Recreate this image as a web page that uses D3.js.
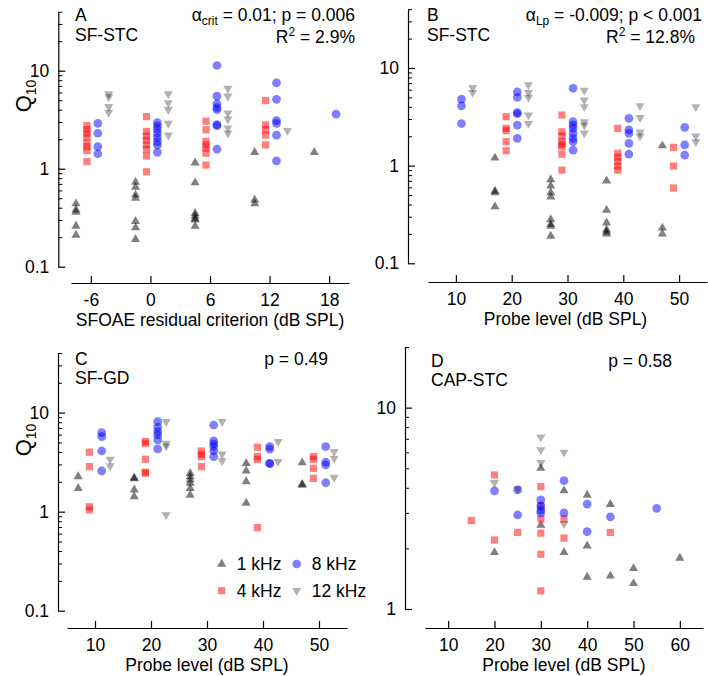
<!DOCTYPE html>
<html><head><meta charset="utf-8">
<script src="https://cdn.jsdelivr.net/npm/d3@7"></script>
<style>
html,body{margin:0;padding:0;background:#fff;}
svg{display:block;font-family:"Liberation Sans",Arial,sans-serif;}
</style></head>
<body><svg id="c" width="708" height="676"></svg>
<script>
// ---------------- DATA ----------------
const frequencies = ["1 kHz", "4 kHz", "8 kHz", "12 kHz"];

// Panel A: [SFOAE residual criterion (dB SPL), Q10]
const A_1k = [[-6,0.44],[-6,0.38],[-6,0.36],[-6,0.26],[-6,0.21],
  [0,0.73],[0,0.65],[0,0.54],[0,0.5],[0,0.29],[0,0.25],[0,0.19],
  [6,1.15],[6,0.72],[6,0.35],[6,0.33],[6,0.31],[6,0.30],[6,0.26],
  [12,1.47],[12,0.48],[12,0.44],[18,1.47]];
const A_4k = [[-6,2.75],[-6,2.5],[-6,2.3],[-6,2.1],[-6,1.82],[-6,1.68],[-6,1.53],[-6,1.18],
  [0,3.4],[0,2.4],[0,2.15],[0,1.95],[0,1.75],[0,1.58],[0,1.35],[0,0.93],
  [6,3.05],[6,2.5],[6,1.9],[6,1.75],[6,1.62],[6,1.44],[6,1.09],
  [12,4.95],[12,2.8],[12,2.5],[12,2.2],[12,1.75]];
const A_8k = [[-6,2.9],[-6,2.3],[-6,1.68],[-6,1.42],
  [0,2.96],[0,2.74],[0,2.53],[0,2.31],[0,2.08],[0,1.89],[0,1.75],[0,1.47],
  [6,11.3],[6,5.5],[6,4.6],[6,4.2],[6,4.0],[6,2.82],[6,2.75],[6,1.58],
  [12,7.5],[12,5.1],[12,3.1],[12,2.9],[12,2.2],[12,1.2],[18,3.6]];
const A_12k = [[-6,5.8],[-6,5.4],[-6,4.3],[-6,3.75],
  [0,5.8],[0,4.7],[0,4.0],[0,2.9],[0,2.2],
  [6,6.6],[6,5.5],[6,3.7],[6,3.2],[6,2.6],[6,2.3],[12,2.45]];

// Panel B: [probe level (dB SPL), Q10]
const B_1k = [[20,1.2],[20,0.55],[20,0.53],[20,0.38],
  [30,0.72],[30,0.62],[30,0.53],[30,0.48],[30,0.28],[30,0.25],[30,0.24],[30,0.19],
  [40,0.70],[40,0.35],[40,0.26],[40,0.22],[40,0.21],[40,0.20],
  [50,1.6],[50,0.23],[50,0.2]];
const B_4k = [[20,3.17],[20,2.41],[20,2.28],[20,1.76],[20,1.42],
  [30,3.3],[30,2.22],[30,2.01],[30,1.76],[30,1.65],[30,1.56],[30,1.31],[30,0.9],
  [40,2.41],[40,1.34],[40,1.22],[40,1.1],[40,0.99],[40,0.9],
  [50,1.54],[50,0.99],[50,0.59]];
const B_8k = [[10,4.8],[10,4.1],[10,2.7],
  [20,5.7],[20,5.0],[20,3.5],[20,3.4],[20,2.6],[20,1.9],
  [30,6.2],[30,2.82],[30,2.6],[30,2.41],[30,2.14],[30,1.9],[30,1.76],[30,1.44],
  [40,3.05],[40,2.32],[40,2.14],[40,1.69],[40,1.31],
  [50,2.47],[50,1.63],[50,1.28]];
const B_12k = [[10,6.3],[10,5.6],
  [20,6.7],[20,5.6],[20,5.0],[20,3.3],[20,2.7],
  [30,5.9],[30,4.7],[30,4.0],[30,2.8],[30,2.6],[30,2.15],
  [40,4.1],[40,3.1],[40,2.2],[40,2.0],
  [50,4.0],[50,2.0],[50,1.75]];

// Panel C: [probe level (dB SPL), Q10]
const C_1k = [[10,2.26],[10,1.72],[20,2.2],[20,2.15],[20,1.66],[20,1.42],
  [30,2.44],[30,2.26],[30,2.09],[30,1.94],[30,1.72],[30,1.47],
  [40,3.08],[40,2.58],[40,2.01],[40,1.22],[50,3.12],[50,1.9],[50,1.85]];
const C_4k = [[10,3.98],[10,2.85],[10,1.12],[10,1.04],
  [20,5.1],[20,4.9],[20,3.38],[20,2.5],[20,2.45],
  [30,4.1],[30,3.8],[30,3.6],[30,2.85],
  [40,4.47],[40,3.6],[40,3.38],[40,0.69],
  [50,3.6],[50,3.38],[50,2.74],[50,2.17]];
const C_8k = [[10,6.28],[10,5.72],[10,4.1],[10,2.58],
  [20,8.1],[20,7.13],[20,6.43],[20,5.96],[20,5.3],[20,4.3],
  [30,7.5],[30,5.18],[30,4.83],[30,4.54],[30,4.1],[30,3.6],
  [40,4.54],[40,4.27],[40,3.08],[40,3.05],
  [50,4.54],[50,3.16],[50,2.96],[50,1.96]];
const C_12k = [[10,3.38],[10,2.9],[20,8.1],[20,4.9],[20,4.6],[20,0.93],
  [30,8.1],[30,3.8],[30,3.25],[40,5.1],[40,3.2],[50,4.04],[50,3.46],[50,2.22]];

// Panel D: [probe level (dB SPL), Q10]
const D_1k = [[20,1.91],[30,5.0],[30,2.61],[35,3.87],[35,1.91],[40,3.68],[40,2.06],[40,1.44],
  [45,3.31],[45,1.46],[50,1.59],[50,1.34],[60,1.79]];
const D_4k = [[15,2.75],[20,4.63],[20,2.2],[25,2.4],[30,4.05],[30,3.25],[30,2.8],[30,2.38],
  [30,1.87],[30,1.23],[35,2.8],[35,2.25],[45,2.4]];
const D_8k = [[20,3.86],[25,3.9],[25,2.93],[30,3.48],[30,3.25],[30,3.1],[30,3.0],
  [35,4.34],[35,3.0],[40,3.32],[40,2.42],[45,2.87],[55,3.16]];
const D_12k = [[20,4.24],[25,3.95],[30,7.13],[30,6.17],[30,5.33],[35,6.0],[35,2.65]];

// frequency-wise horizontal displacement (dB) used in the figure
const offsetsA = [-1.5, -0.4, 0.7, 1.8];
const offsetsB = [-3, -1, 1, 3];
const offsetsC = [-3, -1, 1.2, 2.7];
const offsetsD = [0, 0, 0, 0];

const xTicksA = [-6, 0, 6, 12, 18];
const xTicksProbe = [10, 20, 30, 40, 50];
const xTicksD = [10, 20, 30, 40, 50, 60];
const yMajorABC = [0.1, 1, 10];
const yMinorABC = [0.2,0.3,0.4,0.5,0.6,0.7,0.8,0.9,2,3,4,5,6,7,8,9,20,30,40];
const yMajorD = [1, 10];
const yMinorD = [2,3,4,5,6,7,8,9,20];

// ---------------- DRAW ----------------
const svg = d3.select("#c");
const FS = 17.5;
const styles = [
  {type: d3.symbolTriangle, size: 36, fill: "rgba(0,0,0,0.5)", rot: 0},
  {type: d3.symbolSquare, size: 52, fill: "rgba(255,0,0,0.5)", rot: 0},
  {type: d3.symbolCircle, size: 60, fill: "rgba(0,0,255,0.5)", rot: 0},
  {type: d3.symbolTriangle, size: 36, fill: "rgba(0,0,0,0.3)", rot: 180}
];

function panel(cfg) {
  const g = svg.append("g");
  const x = d3.scaleLinear().domain(cfg.xDomain).range([cfg.xLeft, cfg.xRight]);
  const y = d3.scaleLog().domain(cfg.yDomain).range([cfg.yBot, cfg.yTop]);

  const xa = g.append("g").attr("transform", `translate(0,${cfg.xAxisY})`)
    .call(d3.axisBottom(x).tickValues(cfg.xTicks).tickSizeInner(-7).tickSizeOuter(0).tickPadding(11).tickFormat(d => String(d)));
  xa.selectAll("text").attr("font-size", FS).attr("font-family", "Liberation Sans, Arial, sans-serif").attr("fill", "#000");
  xa.selectAll("line,path").attr("stroke", "#000").attr("stroke-width", 1.2);

  const ya = g.append("g").attr("transform", `translate(${cfg.yAxisX},0)`)
    .call(d3.axisLeft(y).tickValues(cfg.yMajor).tickSizeInner(-7).tickSizeOuter(0).tickPadding(9).tickFormat(d => String(d)));
  ya.selectAll("text").attr("font-size", FS).attr("font-family", "Liberation Sans, Arial, sans-serif").attr("fill", "#000");
  ya.selectAll("line,path").attr("stroke", "#000").attr("stroke-width", 1.2);
  const ym = g.append("g").attr("transform", `translate(${cfg.yAxisX},0)`)
    .call(d3.axisLeft(y).tickValues(cfg.yMinor).tickSizeInner(-4).tickSizeOuter(0).tickFormat(""));
  ym.select(".domain").remove();
  ym.selectAll("line").attr("stroke", "#000").attr("stroke-width", 1);

  g.append("text").attr("x", (cfg.xLeft + cfg.xRight) / 2 + (cfg.titleDx || 0)).attr("y", cfg.xAxisY + 43)
    .attr("text-anchor", "middle").attr("font-size", FS).text(cfg.xTitle);

  cfg.series.forEach((data, i) => {
    const st = styles[i];
    const sym = d3.symbol().type(st.type).size(st.size);
    g.append("g").selectAll("path").data(data).join("path")
      .attr("d", sym)
      .attr("transform", d => `translate(${x(d[0] + cfg.offsets[i])},${y(d[1])}) rotate(${st.rot})`)
      .attr("fill", st.fill);
  });
  return {g, x, y};
}

function q10(xp, yp) {
  const t = svg.append("text").attr("transform", `translate(${xp},${yp}) rotate(-90)`)
    .attr("text-anchor", "middle").attr("font-size", 22);
  t.append("tspan").text("Q");
  t.append("tspan").attr("font-size", 14).attr("dy", 5).text("10");
}

function label(xp, yp, txt, anchor) {
  return svg.append("text").attr("x", xp).attr("y", yp).attr("font-size", FS)
    .attr("text-anchor", anchor || "start").text(txt);
}

panel({xDomain: [-8, 20], xLeft: 71, xRight: 349, xAxisY: 283, xTicks: xTicksA,
  yDomain: [0.1, 40], yBot: 266.7, yTop: 11.7, yAxisX: 58.3, yMajor: yMajorABC, yMinor: yMinorABC,
  xTitle: "SFOAE residual criterion (dB SPL)", series: [A_1k, A_4k, A_8k, A_12k], offsets: offsetsA});
panel({xDomain: [5, 55], xLeft: 428, xRight: 707, xAxisY: 282, xTicks: xTicksProbe,
  yDomain: [0.1, 40], yBot: 263.3, yTop: 9.2, yAxisX: 408, yMajor: yMajorABC, yMinor: yMinorABC,
  xTitle: "Probe level (dB SPL)", titleDx: -2, series: [B_1k, B_4k, B_8k, B_12k], offsets: offsetsB});
panel({xDomain: [5, 55], xLeft: 67, xRight: 347, xAxisY: 628, xTicks: xTicksProbe,
  yDomain: [0.1, 40], yBot: 610.7, yTop: 353, yAxisX: 58, yMajor: yMajorABC, yMinor: yMinorABC,
  xTitle: "Probe level (dB SPL)", series: [C_1k, C_4k, C_8k, C_12k], offsets: offsetsC});
panel({xDomain: [5, 65], xLeft: 425, xRight: 703, xAxisY: 628, xTicks: xTicksD,
  yDomain: [1, 20], yBot: 609, yTop: 347, yAxisX: 405, yMajor: yMajorD, yMinor: yMinorD,
  xTitle: "Probe level (dB SPL)", series: [D_1k, D_4k, D_8k, D_12k], offsets: offsetsD});

q10(31, 96);
q10(31, 440);

label(75, 20.5, "A"); label(75, 41, "SF-STC");
let t = label(355, 20.5, "", "end");
t.append("tspan").text("\u03b1");
t.append("tspan").attr("font-size", 12).attr("dy", 4).text("crit");
t.append("tspan").attr("dy", -4).text(" = 0.01; p = 0.006");
t = label(355, 42.5, "", "end");
t.append("tspan").text("R");
t.append("tspan").attr("font-size", 12).attr("dy", -7).text("2");
t.append("tspan").attr("dy", 7).text(" = 2.9%");

label(427, 20.5, "B"); label(427, 41, "SF-STC");
t = label(702, 20.5, "", "end");
t.append("tspan").text("\u03b1");
t.append("tspan").attr("font-size", 12).attr("dy", 4).text("Lp");
t.append("tspan").attr("dy", -4).text(" = -0.009; p < 0.001");
t = label(695, 42.5, "", "end");
t.append("tspan").text("R");
t.append("tspan").attr("font-size", 12).attr("dy", -7).text("2");
t.append("tspan").attr("dy", 7).text(" = 12.8%");

label(75, 365, "C"); label(75, 384, "SF-GD");
label(328, 365, "p = 0.49", "end");
label(431, 366.5, "D"); label(431, 386, "CAP-STC");
label(672, 366.5, "p = 0.58", "end");

const legendPos = [[221.7, 564], [221.7, 590.7], [296.7, 564], [296.7, 590.7]];
frequencies.forEach((f, i) => {
  const st = styles[i];
  const [lx, ly] = legendPos[i];
  svg.append("path").attr("d", d3.symbol().type(st.type).size(st.size)())
    .attr("transform", `translate(${lx},${ly}) rotate(${st.rot})`).attr("fill", st.fill);
  svg.append("text").attr("x", lx + 15).attr("y", ly + 6).attr("font-size", FS).text(f);
});
</script></body></html>
